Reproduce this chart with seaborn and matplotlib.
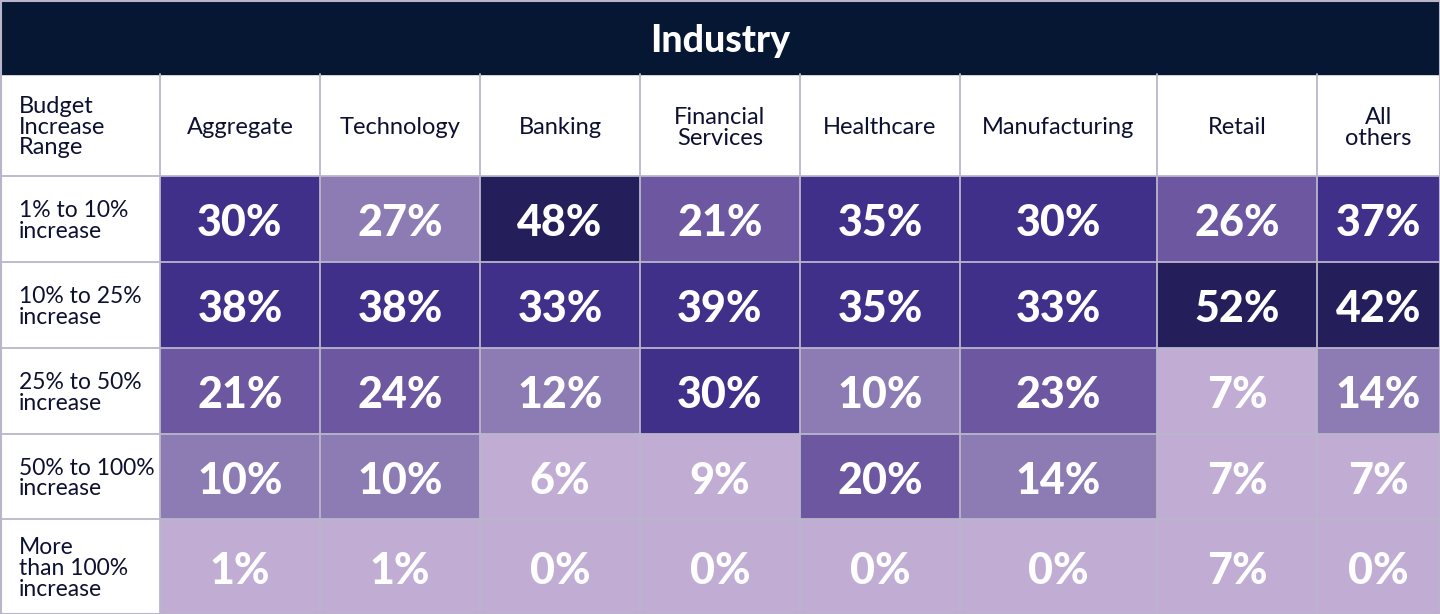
import numpy as np
import matplotlib
matplotlib.use("Agg")
import matplotlib.pyplot as plt
from matplotlib.colors import ListedColormap
from matplotlib.patches import Rectangle
import seaborn as sns

# -----------------------------
# DATA
# -----------------------------
title = "Industry"
corner_label = "Budget\nIncrease\nRange"
industries = ["Aggregate", "Technology", "Banking", "Financial\nServices",
              "Healthcare", "Manufacturing", "Retail", "All\nothers"]
ranges = ["1% to 10%\nincrease", "10% to 25%\nincrease", "25% to 50%\nincrease",
          "50% to 100%\nincrease", "More\nthan 100%\nincrease"]

values = np.array([
    [30, 27, 48, 21, 35, 30, 26, 37],
    [38, 38, 33, 39, 35, 33, 52, 42],
    [21, 24, 12, 30, 10, 23, 7, 14],
    [10, 10, 6, 9, 20, 14, 7, 7],
    [1, 1, 0, 0, 0, 0, 7, 0],
])
# colour tier of each cell as shown in the picture (0 = lightest, 4 = darkest)
tiers = np.array([
    [3, 1, 4, 2, 3, 3, 2, 3],
    [3, 3, 3, 3, 3, 3, 4, 4],
    [2, 2, 1, 3, 1, 2, 0, 1],
    [1, 1, 0, 0, 2, 1, 0, 0],
    [0, 0, 0, 0, 0, 0, 0, 0],
])

# -----------------------------
# STYLE / LAYOUT (pixels)
# -----------------------------
W, H = 1440, 614
tier_colors = ["#C1ADD3", "#8D7BB4", "#6D57A0", "#41308A", "#241F5B"]
navy = "#061733"
text_dark = "#0D1131"
grid_c = "#B9B6CC"

col_edges = [0, 160, 320, 480, 640, 800, 960, 1157, 1317, 1440]
row_edges = [0, 74, 176, 262, 348, 434, 519, 614]

sns.set_theme(style="white")
plt.rcParams["font.family"] = ["Lato", "DejaVu Sans"]

fig = plt.figure(figsize=(W / 100, H / 100), dpi=100)
fig.patch.set_facecolor("white")

cmap = ListedColormap(tier_colors)
annot = np.array([[f"{v}%" for v in row] for row in values])

# one small heatmap per cell so rows/columns can have their own sizes
for i in range(len(ranges)):
    y0, y1 = row_edges[i + 2], row_edges[i + 3]
    for j in range(len(industries)):
        x0, x1 = col_edges[j + 1], col_edges[j + 2]
        ax = fig.add_axes([x0 / W, 1 - y1 / H, (x1 - x0) / W, (y1 - y0) / H])
        sns.heatmap(tiers[[i]][:, [j]], ax=ax, cmap=cmap, vmin=-0.5, vmax=4.5,
                    cbar=False, annot=annot[[i]][:, [j]], fmt="",
                    annot_kws={"color": "white", "fontsize": 31,
                               "fontweight": "black"},
                    xticklabels=False, yticklabels=False)
        # nudge the number a little lower, like the original
        for t in ax.texts:
            t.set_y(0.5 + 4 / (y1 - y0))
        ax.set_xlabel("")
        ax.set_ylabel("")

# overlay for title bar, headers, row labels and grid
ov = fig.add_axes([0, 0, 1, 1], facecolor="none")
ov.set_xlim(0, W)
ov.set_ylim(H, 0)
ov.axis("off")

ov.add_patch(Rectangle((0, 0), W, row_edges[1], color=navy, zorder=1))
ov.text(W / 2, row_edges[1] / 2 + 4, title, color="white", fontsize=27,
        fontweight="black", ha="center", va="center", zorder=3)

hy = (row_edges[1] + row_edges[2]) / 2
ov.text(19, hy + 2, corner_label, color=text_dark, fontsize=17, ha="left",
        va="center", linespacing=0.95, zorder=3)
for j, name in enumerate(industries):
    cx = (col_edges[j + 1] + col_edges[j + 2]) / 2
    ov.text(cx, hy + 3, name, color=text_dark, fontsize=17, ha="center",
            va="center", linespacing=0.95, zorder=3)

for i, lab in enumerate(ranges):
    cy = (row_edges[i + 2] + row_edges[i + 3]) / 2
    ov.text(19, cy + 2, lab, color=text_dark, fontsize=16.5, ha="left",
            va="center", linespacing=0.98, zorder=3)

# grid lines
for x in col_edges[1:-1]:
    ov.plot([x, x], [row_edges[1], H], color=grid_c, lw=1.3, zorder=2)
for y in row_edges[2:-1]:
    ov.plot([0, W], [y, y], color=grid_c, lw=1.3, zorder=2)
ov.add_patch(Rectangle((0.5, 0.5), W - 1, H - 1, fill=False, ec=grid_c, lw=1.5, zorder=4))

fig.savefig("out.png", dpi=100)
